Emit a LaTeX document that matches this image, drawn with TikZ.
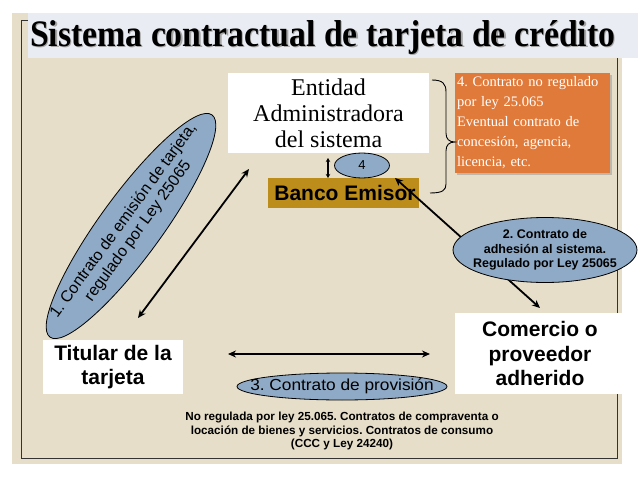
\documentclass[tikz,border=0pt]{standalone}
\usepackage{fontspec}
\usepackage{graphicx}
\setmainfont{Liberation Serif}
\setsansfont{Liberation Sans}
\usetikzlibrary{shapes.geometric,arrows.meta,shadows}
\definecolor{beige}{RGB}{230,222,200}
\definecolor{band}{RGB}{233,236,242}
\definecolor{ellblue}{RGB}{143,170,198}
\definecolor{orangebox}{RGB}{224,122,58}
\definecolor{gold}{RGB}{188,141,26}
\newcommand{\titletext}{\resizebox{585pt}{26pt}{\bfseries Sistema contractual de tarjeta de crédito}}
\frenchspacing
\begin{document}
\begin{tikzpicture}[x=1pt,y=-1pt,
  whitebox/.style={fill=white, inner sep=0pt, align=center, font=\sffamily\bfseries\fontsize{21}{24.5}\selectfont},
  ellshape/.style={ellipse, draw=black, line width=0.8pt, fill=ellblue, inner sep=0pt},
  dbl/.style={{Stealth[length=8pt,width=7pt]}-{Stealth[length=8pt,width=7pt]}, line width=1.8pt},
  small dbl/.style={{Stealth[length=4pt,width=4.5pt]}-{Stealth[length=4pt,width=4.5pt]}, line width=1.1pt},
  frameline/.style={line width=0.8pt, draw=black!80}]
\useasboundingbox (0,0) rectangle (638,479);
% background panel and title band
\fill[beige] (12,13) rectangle (622,464);
\fill[band] (28,13) rectangle (638,58);
\draw[frameline] (28,20) -- (21,20) -- (21,458) -- (617,458) -- (617,58);
\node[anchor=base west, text=black!35, inner sep=0pt] (titleshadow) at (31.2,47.2) {\titletext};
\node[anchor=base west, inner sep=0pt] (title) at (30,46) {\titletext};
% boxes
\node[fill=white, inner sep=0pt, minimum width=201, minimum height=80, align=center,
  font=\rmfamily\fontsize{24}{26}\selectfont] (entidad) at (328.5,113) {Entidad\\Administradora\\del sistema};
\node[fill=gold, inner sep=0pt, minimum width=151, minimum height=30,
  font=\sffamily\bfseries\fontsize{21}{22}\selectfont] (banco) at (343.5,193) {\hspace*{3pt}Banco Emisor};
\node[whitebox, minimum width=140, minimum height=54] (titular) at (113,367) {Titular de la\\tarjeta};
\node[whitebox, minimum width=170, minimum height=81] (comercio) at (540,353.5) {Comercio o\\proveedor\\adherido};
\node[fill=orangebox, drop shadow={shadow xshift=2pt, shadow yshift=-2pt, opacity=0.4}, minimum width=155, minimum height=100,
  text width=151, inner sep=2pt, align=left, text=white,
  font=\rmfamily\fontsize{14.5}{20}\selectfont] (orange) at (532.5,123)
  {4. Contrato no regulado\\por ley 25.065\\Eventual contrato de\\concesión, agencia,\\licencia, etc.};
% brace
\draw[line width=0.9pt] (432,80) .. controls (443,80) and (446,84) .. (446,92) -- (446,133)
  .. controls (446,139) and (449,142) .. (455,142)
  .. controls (449,142) and (446,145) .. (446,151) -- (446,184)
  .. controls (446,190) and (443,193) .. (430,193);
% connectors
\coordinate (a1s) at (138,318);
\coordinate (a1e) at (249,169);
\draw[dbl] (a1s) -- (a1e);
\coordinate (a2s) at (395,178);
\coordinate (a2e) at (540,308);
\draw[dbl] (a2s) -- (a2e);
\coordinate (a3s) at (228,354);
\coordinate (a3e) at (430,354);
\draw[dbl] (a3s) -- (a3e);
\coordinate (a4s) at (328,158);
\coordinate (a4e) at (328,178);
\draw[small dbl] (a4s) -- (a4e);
% ellipses
\node[ellshape, minimum width=55, minimum height=25, font=\sffamily\fontsize{13}{15}\selectfont] (e4) at (362,165.5) {4};
\node[ellshape, minimum width=275, minimum height=62, rotate=53.9] (e1) at (131,226) {};
\node[rotate=53.9, align=center, inner sep=0pt, font=\sffamily\fontsize{16}{18}\selectfont] (e1t) at (e1.center) {1. Contrato de emisión de tarjeta,\\regulado por Ley 25065};
\node[ellshape, minimum width=184, minimum height=65] (e2) at (545,250) {};
\node[align=center, inner sep=0pt, font=\sffamily\bfseries\fontsize{12.5}{14.5}\selectfont] (e2t) at (e2.center) {2. Contrato de\\adhesión al sistema.\\Regulado por Ley 25065};
\node[ellshape, minimum width=210, minimum height=27] (e3) at (342,386.5) {};
\node[inner sep=0pt, font=\sffamily\fontsize{16}{18}\selectfont] (e3t) at (e3.center) {\scalebox{1.08}[1]{3. Contrato de provisión}};
% bottom text
\node[align=center, inner sep=0pt, font=\sffamily\bfseries\fontsize{11.7}{13.5}\selectfont] (note) at (342,431)
  {No regulada por ley 25.065. Contratos de compraventa o\\locación de bienes y servicios. Contratos de consumo\\(CCC y Ley 24240)};
\end{tikzpicture}
\end{document}
